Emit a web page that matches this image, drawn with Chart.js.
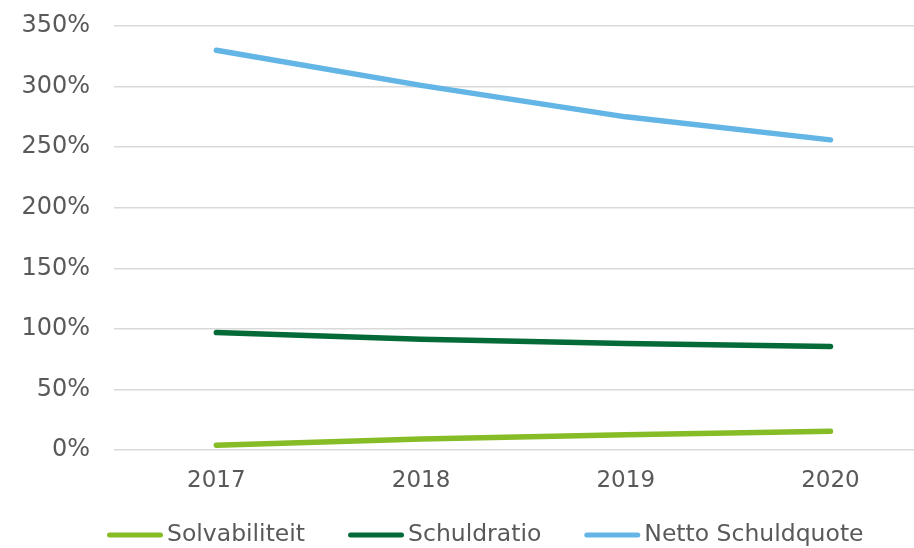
<!DOCTYPE html>
<html>
<head>
<meta charset="utf-8">
<script src="https://cdn.jsdelivr.net/npm/chart.js@4/dist/chart.umd.min.js"></script>
<style>
  body { margin: 0; background: #fff; }
  canvas { display: block; }
</style>
</head>
<body>
<canvas id="ratioChart" width="914" height="548"></canvas>
<script>
// jaren op de x-as
const jaren = ['2017', '2018', '2019', '2020'];

// waarden in procenten
const solvabiliteit = [4, 9, 12.5, 15.5];
const schuldratio = [97, 91.5, 88, 85.5];
const nettoSchuldquote = [330, 301, 275, 256];

const reeksNamen = ['Solvabiliteit', 'Schuldratio', 'Netto Schuldquote'];
const kleuren = ['#86bc25', '#046a38', '#62b5e5'];

const tekstKleur = '#595959';
const lettertype = '"DejaVu Sans", Verdana, sans-serif';

// eigen legenda onderaan (lijnstukje + tekst)
const legendaPlugin = {
    id: 'legendaOnder',
    afterDraw(chart) {
        const ctx = chart.ctx;
        const y = 535;
        let x = 107;
        ctx.save();
        ctx.font = '23.5px ' + lettertype;
        ctx.textBaseline = 'middle';
        ctx.textAlign = 'left';
        chart.data.datasets.forEach(ds => {
            ctx.strokeStyle = ds.borderColor;
            ctx.lineWidth = 5;
            ctx.lineCap = 'round';
            ctx.beginPath();
            ctx.moveTo(x + 2.5, y);
            ctx.lineTo(x + 53.5, y);
            ctx.stroke();
            ctx.fillStyle = tekstKleur;
            ctx.fillText(ds.label, x + 60, y);
            x += 60 + ctx.measureText(ds.label).width + 43;
        });
        ctx.restore();
    }
};

const ctx = document.getElementById('ratioChart').getContext('2d');

// x-as is numeriek; het plot loopt in het origineel rechts net buiten beeld door
const jaarNummers = jaren.map(Number);

const data = {
    datasets: [solvabiliteit, schuldratio, nettoSchuldquote].map((waarden, i) => ({
        label: reeksNamen[i],
        data: waarden.map((v, j) => ({ x: jaarNummers[j], y: v })),
        borderColor: kleuren[i],
        backgroundColor: kleuren[i],
        borderWidth: 5.5,
        borderCapStyle: 'round',
        borderJoinStyle: 'round',
        pointRadius: 0,
        tension: 0,
        fill: false
    }))
};

const ratioChart = new Chart(ctx, {
    type: 'line',
    data: data,
    plugins: [legendaPlugin],
    options: {
        responsive: false,
        animation: false,
        layout: {
            padding: { top: 26, right: 0, bottom: 48, left: 0 }
        },
        plugins: {
            legend: { display: false },
            tooltip: { enabled: false }
        },
        scales: {
            x: {
                type: 'linear',
                min: jaarNummers[0] - 0.5,
                max: jaarNummers[0] - 0.5 + 800 / 204.7,
                grid: { display: false },
                border: { display: false },
                ticks: {
                    color: tekstKleur,
                    font: { family: lettertype, size: 23 },
                    padding: 9,
                    maxRotation: 0,
                    callback: v => String(v)
                },
                afterBuildTicks(scale) {
                    scale.ticks = jaarNummers.map(j => ({ value: j }));
                },
                afterFit(scale) { scale.height = 50; }
            },
            y: {
                min: 0,
                max: 350,
                grid: {
                    color: '#d9d9d9',
                    lineWidth: 1.5,
                    drawTicks: false
                },
                border: { display: false },
                ticks: {
                    stepSize: 50,
                    color: tekstKleur,
                    font: { family: lettertype, size: 24 },
                    padding: 24,
                    callback: v => v + '%'
                },
                afterFit(scale) {
                    scale.width = 114;
                    scale.paddingTop = 0;
                    scale.paddingBottom = 0;
                }
            }
        }
    }
});
</script>
</body>
</html>
